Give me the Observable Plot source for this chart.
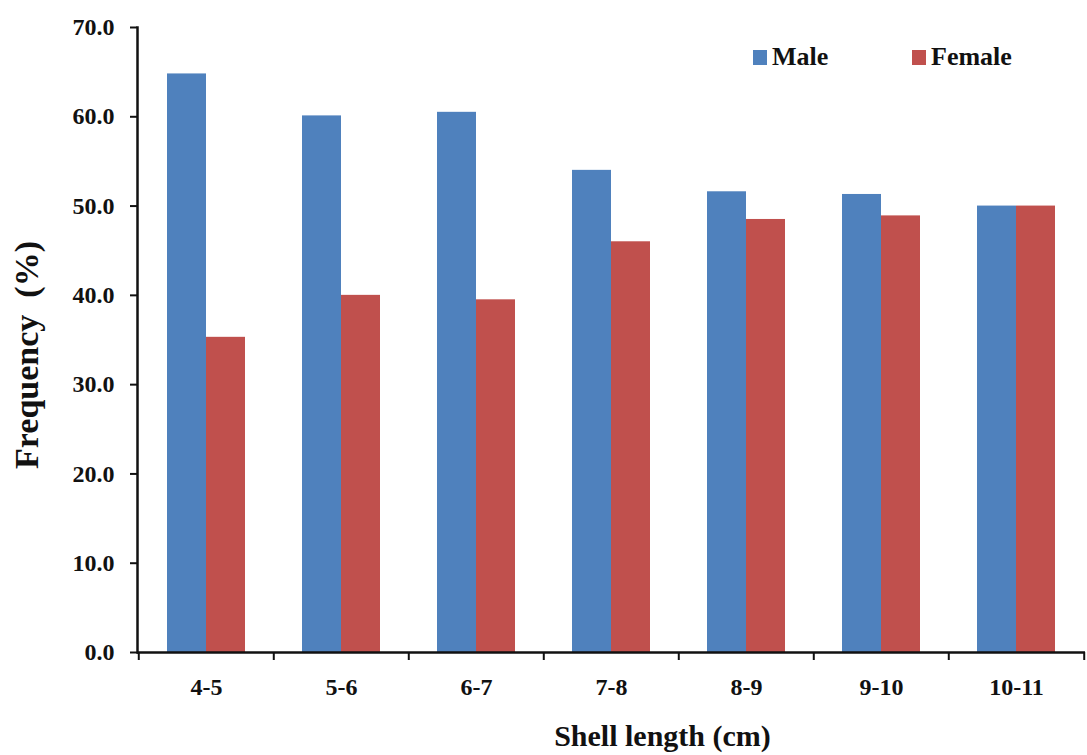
<!DOCTYPE html>
<html>
<head>
<meta charset="utf-8">
<script src="https://cdn.jsdelivr.net/npm/d3@7"></script>
<script src="https://cdn.jsdelivr.net/npm/@observablehq/plot@0.6"></script>
<style>
  body { margin: 0; background: #fff; }
  #wrap { position: relative; width: 1087px; height: 755px; font-family: 'Liberation Serif', 'Times New Roman', serif; }
  #wrap svg text { font-family: 'Liberation Serif', 'Times New Roman', serif; font-weight: bold; }
  .legend { position: absolute; top: 42px; display: flex; align-items: center; font-family: 'Liberation Serif', serif; font-weight: bold; font-size: 26px; color: #111; }
  .legend .sw { width: 14px; height: 15px; margin-right: 5px; }
</style>
</head>
<body>
<div id="wrap"></div>
<script>
const categories = ["4-5", "5-6", "6-7", "7-8", "8-9", "9-10", "10-11"];
const maleValues = [64.8, 60.1, 60.5, 54.0, 51.6, 51.3, 50.0];
const femaleValues = [35.3, 40.0, 39.5, 46.0, 48.5, 48.9, 50.0];
const seriesNames = ["Male", "Female"];
const seriesColors = ["#4F81BD", "#C0504D"];
const yTicks = [0, 10, 20, 30, 40, 50, 60, 70];
const xTitle = "Shell length (cm)";
const yTitle = "Frequency  (%)";

const maleData = categories.map((c, i) => ({cat: c, value: maleValues[i], series: "Male"}));
const femaleData = categories.map((c, i) => ({cat: c, value: femaleValues[i], series: "Female"}));

const W = 1087, H = 755;
const mL = 137, mR = 2, mT = 27, mB = 103;
const padIn = 0.424, padOut = 0.212;
const step = (W - mL - mR) / (categories.length - padIn + 2 * padOut);
const bw = step * (1 - padIn);

const chart = Plot.plot({
  width: W,
  height: H,
  marginLeft: mL,
  marginRight: mR,
  marginTop: mT,
  marginBottom: mB,
  style: "font-family: 'Liberation Serif', 'Times New Roman', serif; font-weight: bold; color: #111; background: #fff;",
  x: {type: "band", domain: categories, paddingInner: padIn, paddingOuter: padOut, axis: null},
  y: {domain: [0, 70], axis: null},
  color: {domain: seriesNames, range: seriesColors},
  marks: [
    Plot.barY(maleData, {x: "cat", y: "value", fill: "series", insetRight: bw / 2}),
    Plot.barY(femaleData, {x: "cat", y: "value", fill: "series", insetLeft: bw / 2}),
    // y axis
    Plot.axisY(yTicks, {tickSize: 7, tickPadding: 16, tickFormat: d3.format(".1f"), fontSize: 24, stroke: "#111", strokeWidth: 2, label: null}),
    Plot.frame({anchor: "left", stroke: "#111", strokeWidth: 2.5}),
    // x axis line
    Plot.ruleY([0], {stroke: "#111", strokeWidth: 2.5}),
    // x tick marks at category boundaries
    Plot.axisX(categories, {tickSize: 8, tickFormat: () => "", dx: -step / 2, stroke: "#111", strokeWidth: 2, label: null}),
    Plot.axisX([categories[categories.length - 1]], {tickSize: 8, tickFormat: () => "", dx: step / 2, stroke: "#111", strokeWidth: 2, label: null}),
    // x tick labels
    Plot.axisX(categories, {tickSize: 0, tickPadding: 25, fontSize: 24, label: null}),
    // axis titles
    Plot.text([xTitle], {frameAnchor: "bottom", dx: 51, dy: 84, fontSize: 30, fontWeight: "bold", lineAnchor: "middle", fill: "#111"}),
    Plot.text([yTitle], {frameAnchor: "left", textAnchor: "middle", lineAnchor: "middle", rotate: -90, dx: -110, dy: 15, fontSize: 34, fontWeight: "bold", fill: "#111"})
  ]
});

const wrap = document.getElementById("wrap");
wrap.appendChild(chart);

const legendPos = [753, 912];
seriesNames.forEach((name, i) => {
  const item = document.createElement("div");
  item.className = "legend";
  item.style.left = legendPos[i] + "px";
  const sw = document.createElement("div");
  sw.className = "sw";
  sw.style.background = seriesColors[i];
  const label = document.createElement("span");
  label.textContent = name;
  item.appendChild(sw);
  item.appendChild(label);
  wrap.appendChild(item);
});
</script>
</body>
</html>
